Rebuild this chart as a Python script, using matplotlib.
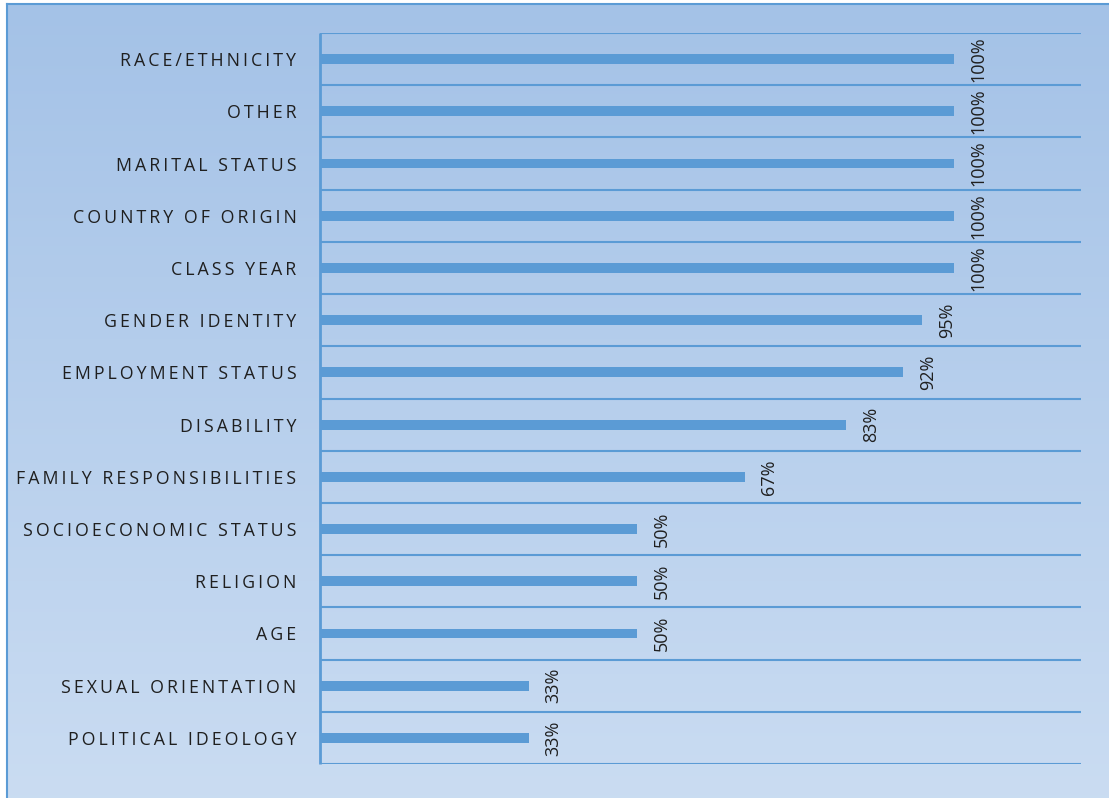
import numpy as np
import matplotlib
matplotlib.use("Agg")
import matplotlib.pyplot as plt
from matplotlib.lines import Line2D

categories = [
    "RACE/ETHNICITY", "OTHER", "MARITAL STATUS", "COUNTRY OF ORIGIN",
    "CLASS YEAR", "GENDER IDENTITY", "EMPLOYMENT STATUS", "DISABILITY",
    "FAMILY RESPONSIBILITIES", "SOCIOECONOMIC STATUS", "RELIGION", "AGE",
    "SEXUAL ORIENTATION", "POLITICAL IDEOLOGY",
]
values = [100, 100, 100, 100, 100, 95, 92, 83, 67, 50, 50, 50, 33, 33]

BAR = "#5b9bd5"
FONTS = ["Open Sans", "DejaVu Sans"]
W, H = 1109, 798


def spaced(s, gap="\u2009"):
    return gap.join(s)


fig = plt.figure(figsize=(W / 100, H / 100), dpi=100)
fig.patch.set_facecolor("white")

# gradient background panel
bx0, by_top = 7, 4
bg = fig.add_axes([bx0 / W, 0, 1 - bx0 / W, (H - by_top) / H], zorder=0)
top = np.array([0.643, 0.761, 0.906])
bot = np.array([0.792, 0.863, 0.949])
t = np.linspace(0, 1, 256)[:, None, None]
grad = top * (1 - t) + bot * t
grad = np.repeat(grad, 2, axis=1)
bg.imshow(grad, aspect="auto", extent=[0, 1, 0, 1], origin="upper")
bg.set_axis_off()
fig.add_artist(Line2D([bx0 / W, bx0 / W], [0, (H - by_top) / H],
                      color=BAR, lw=1.5, transform=fig.transFigure))
fig.add_artist(Line2D([bx0 / W, 1], [(H - by_top) / H, (H - by_top) / H],
                      color=BAR, lw=1.5, transform=fig.transFigure))

# plot area
L, R, T, B = 320, 1081, 33, 764
ax = fig.add_axes([L / W, 1 - B / H, (R - L) / W, (B - T) / H], zorder=1)
ax.patch.set_alpha(0)

n = len(categories)
ypos = np.arange(n)[::-1]
fracs = np.array(values) / 100.0
ax.barh(ypos, fracs, height=0.19, color=BAR, zorder=3)

for y in np.arange(n + 1) - 0.5:
    ax.axhline(y, color=BAR, lw=1.5, zorder=2)

ax.set_xlim(0, 1.2)
ax.set_ylim(-0.5, n - 0.5)
ax.set_yticks(ypos)
ax.set_yticklabels([spaced(c) for c in categories], family=FONTS,
                   fontsize=12.8, color="#1f1f1f")
ax.tick_params(axis="y", length=0, pad=17)
ax.set_xticks([])
for s in ["top", "right", "bottom"]:
    ax.spines[s].set_visible(False)
ax.spines["left"].set_color(BAR)
ax.spines["left"].set_linewidth(2)
ax.spines["left"].set_capstyle("butt")

for y, f, v in zip(ypos, fracs, values):
    ax.annotate(f"{v}%", xy=(f, y), xytext=(11, 0), textcoords="offset points",
                rotation=90, ha="left", va="center", family=FONTS,
                fontsize=13, color="#1f1f1f")

fig.savefig("out.png", dpi=100)
